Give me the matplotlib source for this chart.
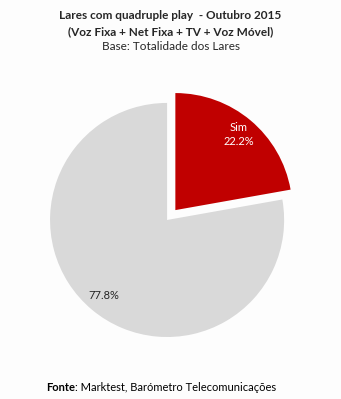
import matplotlib
matplotlib.use("Agg")
import matplotlib.pyplot as plt
import numpy as np

labels = ["Sim", "Não"]
values = [22.2, 77.8]
colors = ["#c00000", "#d9d9d9"]
explode = [0.11, 0]

plt.rcParams['font.family'] = ['Lato', 'DejaVu Sans']

fig = plt.figure(figsize=(3.41, 3.99), dpi=100)
fig.patch.set_facecolor("#fdfdfd")

ax = fig.add_axes([0.078, 0.0967, 0.824, 0.704])
ax.set_facecolor("#fdfdfd")
wedges, texts = ax.pie(values, colors=colors, explode=explode, startangle=90,
                       counterclock=False, radius=1.0)
ax.set_xlim(-1.2, 1.2)
ax.set_ylim(-1.2, 1.2)
ax.set_aspect("equal")
ax.axis("off")

# labels inside slices
for i, w in enumerate(wedges):
    mid = np.deg2rad((w.theta1 + w.theta2) / 2)
    cx, cy = w.center
    x = cx + 0.84 * np.cos(mid)
    y = cy + 0.84 * np.sin(mid)
    if i == 0:
        ax.text(x, y, f"{labels[i]}\n{values[i]:.1f}%", ha="center", va="center",
                color="white", fontsize=8, linespacing=1.3)
    else:
        ax.text(x, y, f"{values[i]:.1f}%", ha="center", va="center",
                color="#262626", fontsize=8)

fig.text(0.5, 0.962, "Lares com quadruple play  - Outubro 2015", ha="center",
         va="center", fontsize=8.5, fontweight="bold", color="#262626")
fig.text(0.5, 0.920, "(Voz Fixa + Net Fixa + TV + Voz Móvel)", ha="center",
         va="center", fontsize=8.5, fontweight="bold", color="#262626")
fig.text(0.5, 0.883, "Base: Totalidade dos Lares", ha="center",
         va="center", fontsize=8.5, color="#262626")

# footer: bold "Fonte" followed by regular text
t1 = fig.text(0.135, 0.030, "Fonte", ha="left", va="center", fontsize=8,
              fontweight="bold", color="#000000")
fig.canvas.draw()
bb = t1.get_window_extent(renderer=fig.canvas.get_renderer())
x_end = bb.x1 / fig.bbox.width
fig.text(x_end, 0.030, ": Marktest, Barómetro Telecomunicações", ha="left",
         va="center", fontsize=8, color="#000000")

fig.savefig("out.png", dpi=100, facecolor=fig.get_facecolor())
